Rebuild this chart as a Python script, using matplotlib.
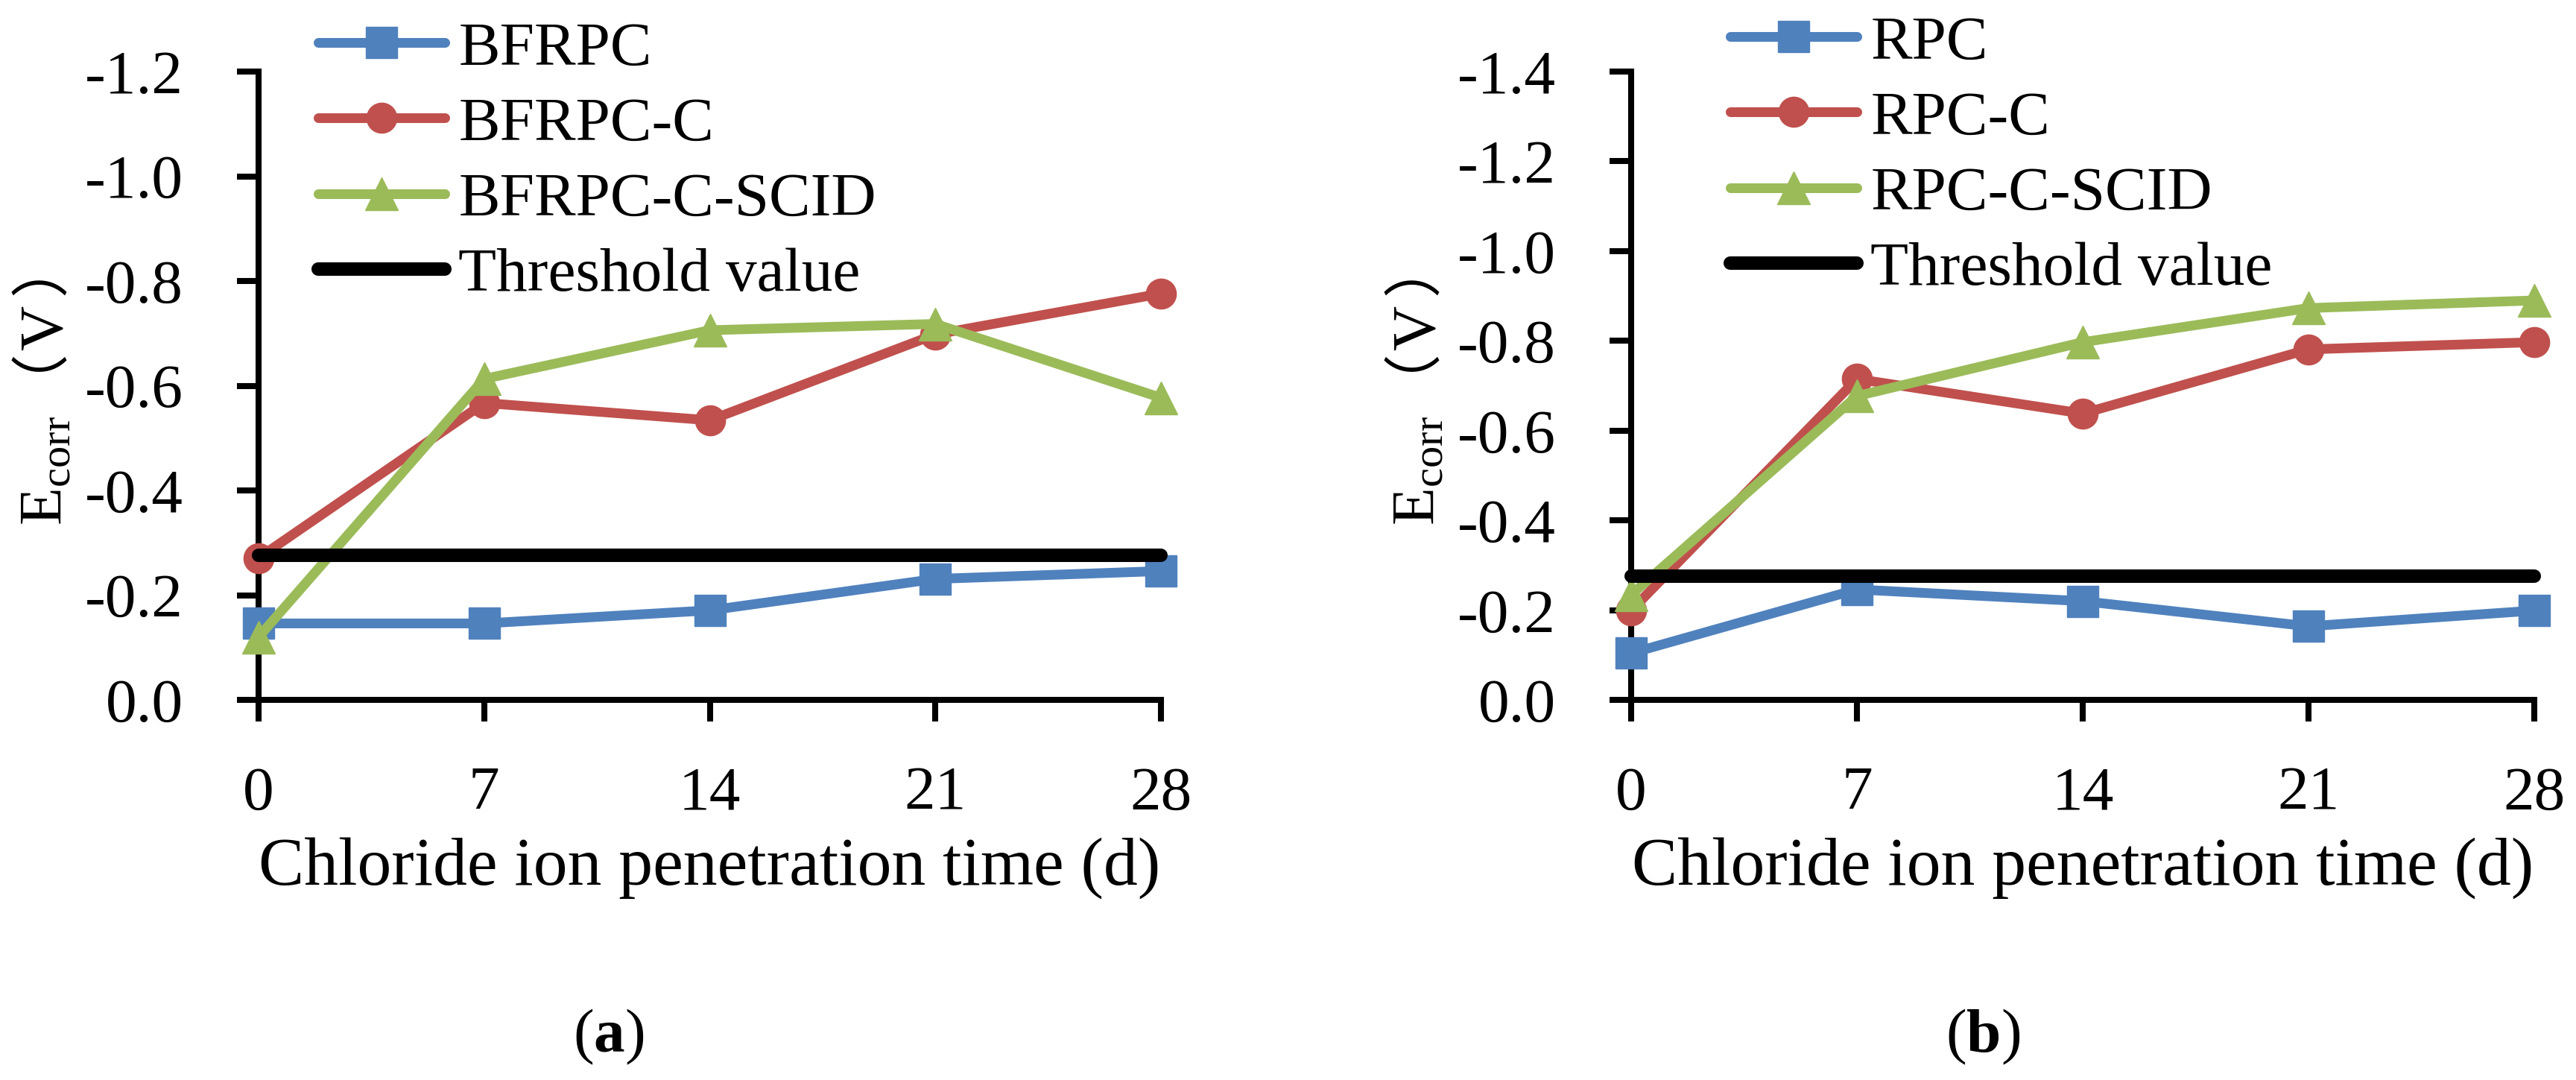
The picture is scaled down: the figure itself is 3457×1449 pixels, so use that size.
import matplotlib
matplotlib.use('Agg')
import matplotlib.pyplot as plt
from matplotlib.ticker import FixedLocator, FuncFormatter

W, H = 3457, 1449
plt.rcParams.update({
    'font.family': ['Liberation Serif', 'Noto Sans CJK SC'],
    'mathtext.fontset': 'custom',
    'mathtext.rm': 'Liberation Serif',
    'mathtext.it': 'Liberation Serif:italic',
    'mathtext.bf': 'Liberation Serif:bold',
    'mathtext.sf': 'Noto Sans CJK SC',
    'axes.unicode_minus': False,
})

# ---------------- data ----------------
days = [0, 7, 14, 21, 28]

a_labels = ['BFRPC', 'BFRPC-C', 'BFRPC-C-SCID']
a_bfrpc = [-0.146, -0.146, -0.171, -0.231, -0.246]
a_bfrpc_c = [-0.271, -0.567, -0.534, -0.698, -0.776]
a_bfrpc_c_scid = [-0.120, -0.613, -0.706, -0.718, -0.577]

b_labels = ['RPC', 'RPC-C', 'RPC-C-SCID']
b_rpc = [-0.104, -0.246, -0.220, -0.164, -0.199]
b_rpc_c = [-0.199, -0.715, -0.638, -0.781, -0.797]
b_rpc_c_scid = [-0.234, -0.677, -0.797, -0.873, -0.890]

threshold = -0.276
threshold_label = 'Threshold value'

a_yticks = [0.0, -0.2, -0.4, -0.6, -0.8, -1.0, -1.2]
b_yticks = [0.0, -0.2, -0.4, -0.6, -0.8, -1.0, -1.2, -1.4]

xlabel = 'Chloride ion penetration time (d)'
# y label "E_corr（V）", drawn in pieces so each piece uses one font
ylabel_main = r'E$_{\mathrm{corr}}$'
ylabel_open, ylabel_unit, ylabel_close = r'$\mathsf{（}$', 'V', r'$\mathsf{）}$'
captions = [r'($\mathbf{a}$)', r'($\mathbf{b}$)']

colors = ['#4F81BD', '#C0504D', '#9BBB59']
markers = ['s', 'o', '^']
msizes = [30, 29, 31]

# ---------------- figure ----------------
fig = plt.figure(figsize=(W / 100, H / 100), dpi=100)

def px_axes(left, right, top, bottom):
    return fig.add_axes([left / W, 1 - bottom / H, (right - left) / W, (bottom - top) / H])

ax_a = px_axes(347, 1558, 96, 939)
ax_b = px_axes(2189, 3401, 96, 939)

LW_AX = 5.8
FS = 60

def fmt(v, p):
    if abs(v) < 1e-9:
        return '0.0'
    return f'{v:.1f}'

def draw(ax, series, labels, yticks, legend_px):
    handles = []
    for vals, lab, c, m, ms in zip(series, labels, colors, markers, msizes):
        ln, = ax.plot(days, vals, color=c, lw=9.4, marker=m, ms=ms, mfc=c, mec=c, mew=1,
                      solid_capstyle='round', solid_joinstyle='round',
                      clip_on=False, label=lab, zorder=3)
        handles.append(ln)
    th, = ax.plot([days[0], days[-1]], [threshold, threshold], color='black', lw=13,
                  solid_capstyle='round', clip_on=False, label=threshold_label, zorder=4)
    handles.append(th)
    ax.set_xlim(days[0], days[-1])
    ax.set_ylim(yticks[0], yticks[-1])
    ax.xaxis.set_major_locator(FixedLocator(days))
    ax.yaxis.set_major_locator(FixedLocator(yticks))
    ax.yaxis.set_major_formatter(FuncFormatter(fmt))
    for s in ['top', 'right']:
        ax.spines[s].set_visible(False)
    for s in ['left', 'bottom']:
        ax.spines[s].set_linewidth(LW_AX)
        ax.spines[s].set_color('black')
    ax.tick_params(direction='out', length=21, width=LW_AX, labelsize=FS, color='black')
    ax.tick_params(axis='y', pad=52)
    ax.tick_params(axis='x', pad=43)
    ax.set_xlabel(xlabel, fontsize=66, labelpad=14)
    lx, ly = legend_px
    ax.legend(handles=handles, loc='upper left', bbox_to_anchor=(lx / W, 1 - ly / H),
              bbox_transform=fig.transFigure, frameon=False, fontsize=FS,
              handlelength=2.04, handletextpad=0.22, labelspacing=0.3,
              borderpad=0, borderaxespad=0, numpoints=1)

draw(ax_a, [a_bfrpc, a_bfrpc_c, a_bfrpc_c_scid], a_labels, a_yticks, (427, 28))
draw(ax_b, [b_rpc, b_rpc_c, b_rpc_c_scid], b_labels, b_yticks, (2322, 20))

# y labels: pieces chained upward on a shared baseline
fig.canvas.draw()
r = fig.canvas.get_renderer()
kw = dict(rotation=90, rotation_mode='anchor', ha='left', va='baseline')
pieces = [(ylabel_main, FS, 0), (ylabel_open, 56, 5), (ylabel_unit, FS, 7), (ylabel_close, 56, 10)]
for axleft in (347, 2189):
    xb = (axleft - 264) / W
    y_px = H - 705
    for txt, size, gap in pieces:
        y_px += gap
        t = fig.text(xb, y_px / H, txt, fontsize=size, **kw)
        y_px = t.get_window_extent(r).y1

# captions
for cap, cx in zip(captions, (817, 2661)):
    fig.text(cx / W, 1 - 1391 / H, cap, ha='center', va='center', fontsize=FS)

fig.savefig('out.png', dpi=100)
